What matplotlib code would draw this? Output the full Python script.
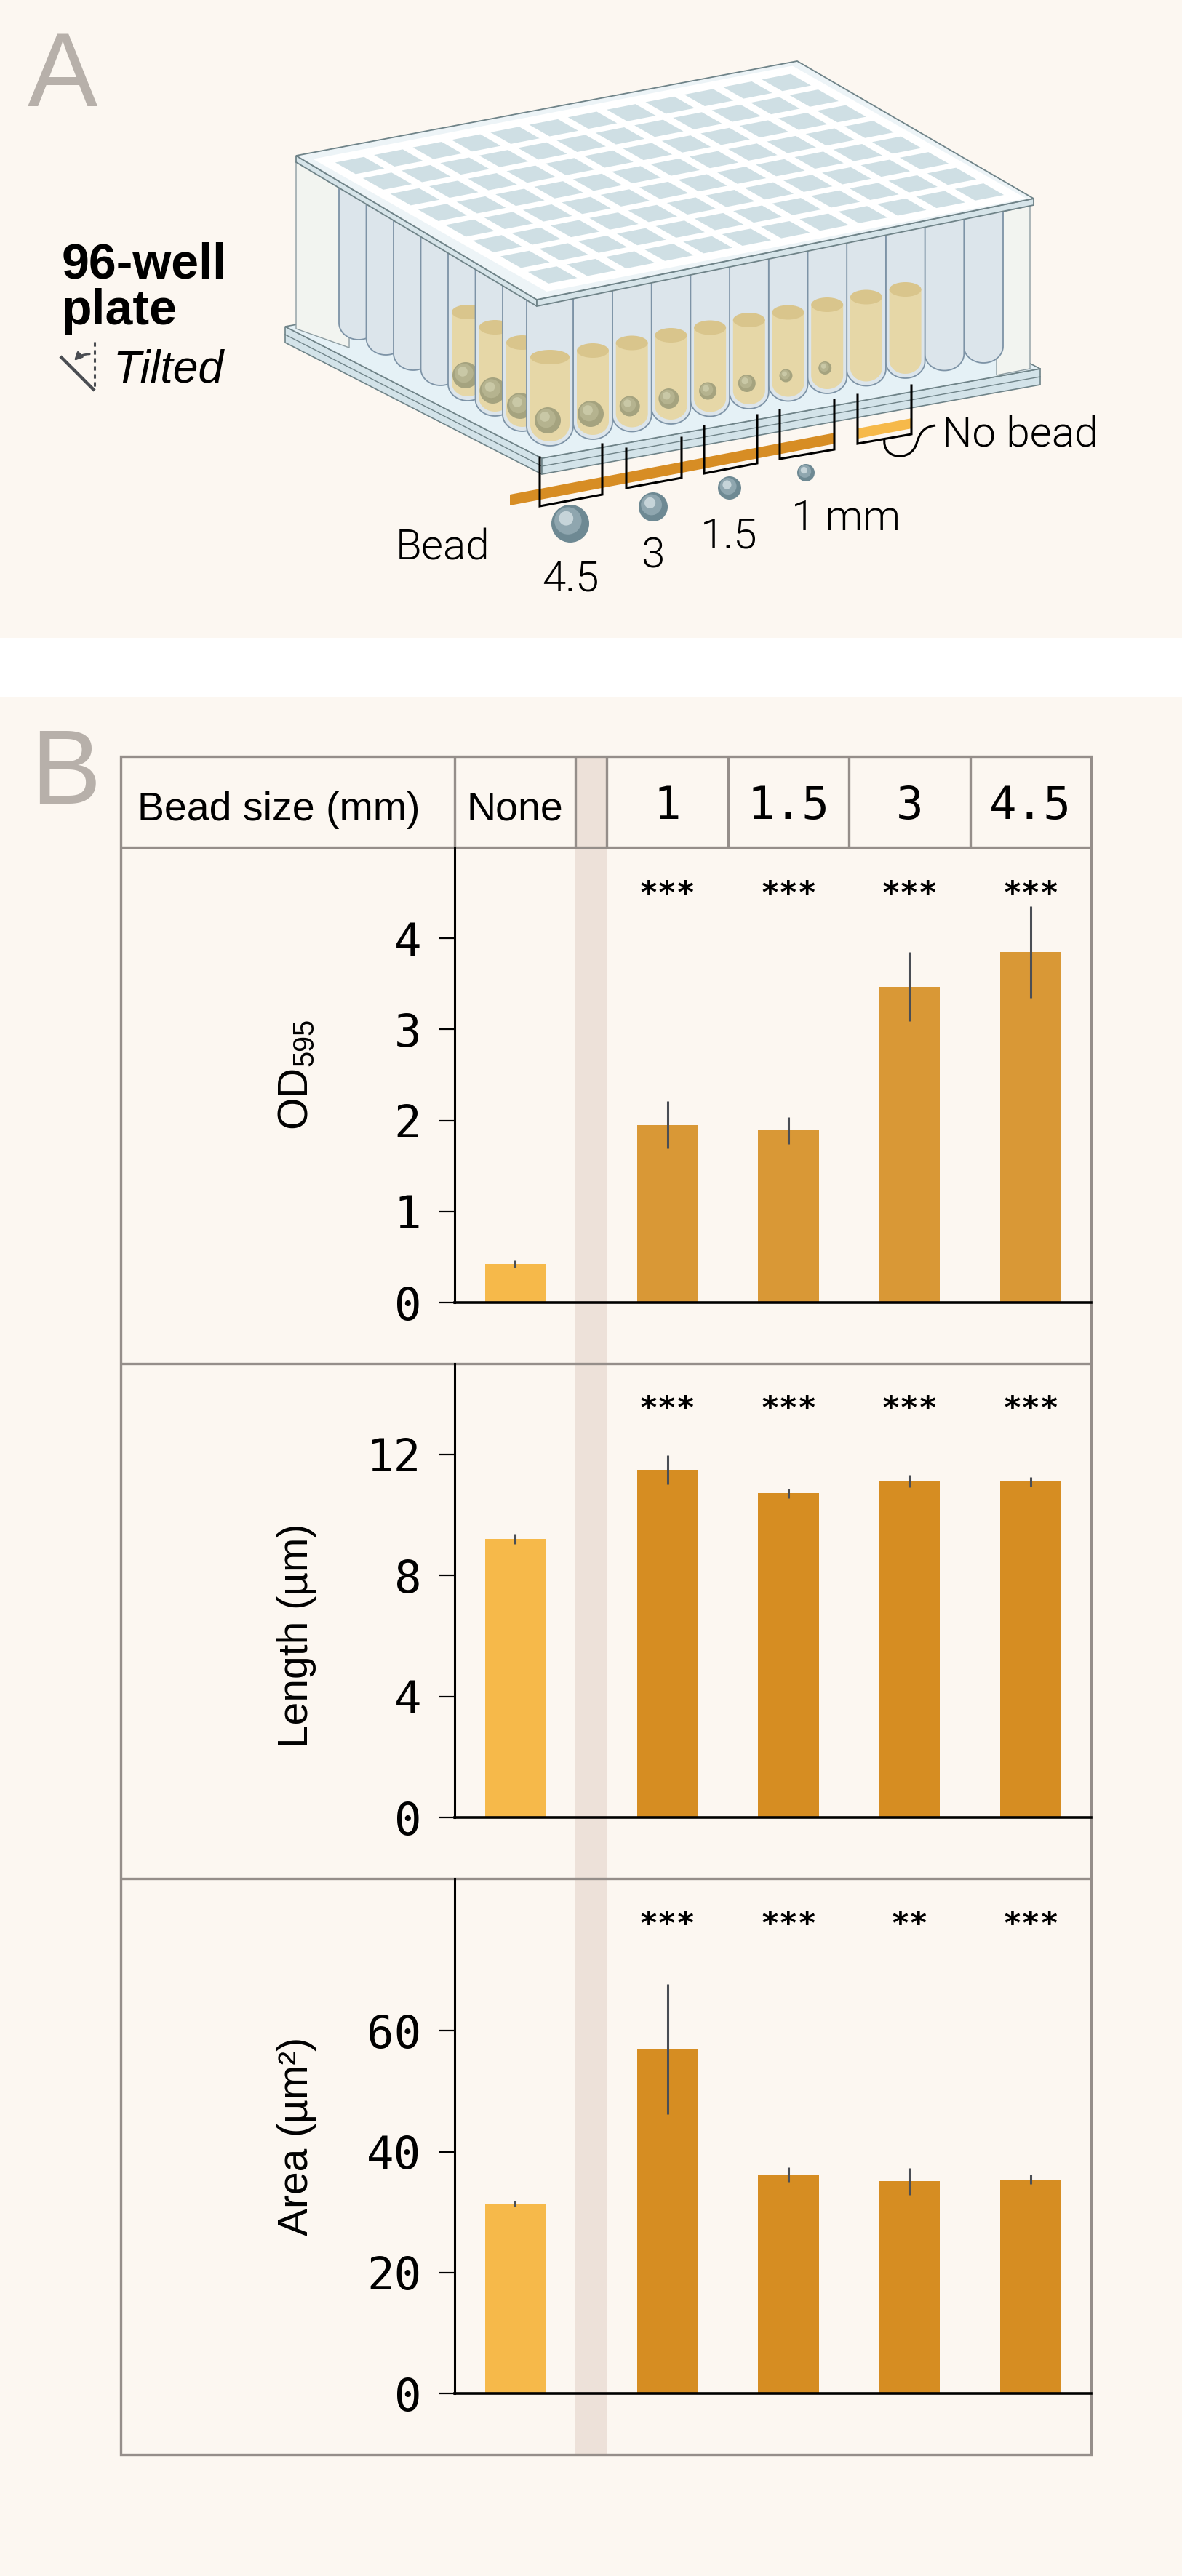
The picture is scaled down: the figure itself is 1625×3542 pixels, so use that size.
import numpy as np
import matplotlib
matplotlib.use('Agg')
import matplotlib.pyplot as plt
from matplotlib import font_manager as fm
from matplotlib.patches import Polygon, Circle, Rectangle, Ellipse, PathPatch, FancyArrowPatch
from matplotlib.path import Path

# ---------------- data ----------------
groups = ['None', '1', '1.5', '3', '4.5']
header_title = 'Bead size (mm)'
od595 = [0.42, 1.95, 1.89, 3.47, 3.85]
od595_err = [0.04, 0.26, 0.15, 0.38, 0.50]
length_um = [9.21, 11.49, 10.71, 11.12, 11.10]
length_err = [0.16, 0.48, 0.15, 0.21, 0.16]
area_um2 = [31.4, 57.0, 36.2, 35.1, 35.4]
area_err = [0.45, 10.8, 1.2, 2.2, 0.8]
stars_od = ['', '***', '***', '***', '***']
stars_len = ['', '***', '***', '***', '***']
stars_area = ['', '***', '***', '**', '***']
yticks_od = [0, 1, 2, 3, 4]
yticks_len = [0, 4, 8, 12]
yticks_area = [0, 20, 40, 60]
ylabel_od = 'OD$_{595}$'
ylabel_len = 'Length (µm)'
ylabel_area = 'Area (µm²)'
panelA_bead_labels = ['4.5', '3', '1.5', '1 mm']

# ---------------- style ----------------
CREAM = '#FCF7F1'
BAND = '#EDE1D9'
GRID = '#958E8A'
NONE_C = '#F6B94A'
OD_C = '#D99836'
DARK_C = '#D68D22'
ERR_C = '#4A4E55'

plt.rcParams['font.family'] = ['Liberation Sans', 'DejaVu Sans']
plt.rcParams['mathtext.default'] = 'regular'


def find_font(names, weights, style='normal'):
    for n in names:
        for f in fm.fontManager.ttflist:
            w = f.weight
            if isinstance(w, str):
                w = fm.weight_dict.get(w, 400)
            if f.name == n and w in weights and f.style == style:
                return f.fname
    return None


light_path = find_font(['Roboto', 'Lato', 'Inter', 'Open Sans', 'Noto Sans'], [300, 200])


def fp_light(size):
    if light_path:
        return fm.FontProperties(fname=light_path, size=size)
    return fm.FontProperties(family='Liberation Sans', size=size)


W, H = 1625, 3542
fig = plt.figure(figsize=(W / 100, H / 100), dpi=100)
fig.patch.set_facecolor(CREAM)
bg = fig.add_axes([0, 0, 1, 1], zorder=0)
bg.set_xlim(0, W)
bg.set_ylim(H, 0)
bg.axis('off')

# white separator between panels
bg.add_patch(Rectangle((0, 877), W, 81, facecolor='white', edgecolor='none'))

# ---------------- panel letters ----------------
bg.text(38, 146, 'A', fontsize=104, color='#B7B0AA', va='baseline', ha='left')
bg.text(42, 1105, 'B', fontsize=104, color='#B7B0AA', va='baseline', ha='left')

# ---------------- panel A: text ----------------
bg.text(85, 382, '96-well', fontsize=49, fontweight='bold', va='baseline')
bg.text(85, 446, 'plate', fontsize=49, fontweight='bold', va='baseline')
bg.text(155, 525, 'Tilted', fontsize=45, style='italic', va='baseline')
bg.plot([83, 130], [490, 537], color='#4A4D52', lw=3.2, solid_capstyle='butt')
bg.plot([130, 130], [470, 535], color='#4A4D52', lw=2.2, ls=(0, (2, 1.6)))
bg.add_patch(FancyArrowPatch((126, 487), (100, 498), arrowstyle='-|>', mutation_scale=16,
                             connectionstyle='arc3,rad=0.25', color='#4A4D52', lw=2))

# ---------------- panel A: plate illustration ----------------
EDGE = '#6F8388'
TUBE_EDGE = '#7D93A6'

# base slab
L2, B2, R2, T2 = np.array([392, 449]), np.array([745, 630]), np.array([1430, 507]), np.array([1077, 326])
th = 22
bg.add_patch(Polygon([L2, B2, B2 + [0, th], L2 + [0, th]], closed=True, fc='#D3E3E9', ec=EDGE, lw=1.2))
bg.add_patch(Polygon([B2, R2, R2 + [0, th], B2 + [0, th]], closed=True, fc='#D3E3E9', ec=EDGE, lw=1.2))
bg.plot([L2[0], B2[0], R2[0]], [L2[1] + 11, B2[1] + 11, R2[1] + 11], color=EDGE, lw=1.0)
bg.add_patch(Polygon([L2, B2, R2, T2], closed=True, fc='#E5F1F6', ec=EDGE, lw=1.2))

# skirt end strips
bg.add_patch(Polygon([(407, 222), (480, 266), (480, 478), (407, 452)], closed=True,
                     fc='#F2F4F0', ec='#8D9CA1', lw=1.0))
bg.add_patch(Polygon([(1370, 293), (1416, 283), (1416, 507), (1370, 516)], closed=True,
                     fc='#F2F4F0', ec='#8D9CA1', lw=1.0))

# lid geometry
L, T, R, B = np.array([407, 214]), np.array([1096, 84]), np.array([1421, 273]), np.array([738, 412])
lt = 9


def lid_front_y(x):
    if x <= B[0]:
        return L[1] + lt + (x - L[0]) * (B[1] - L[1]) / (B[0] - L[0])
    return B[1] + lt + (x - B[0]) * (R[1] - B[1]) / (R[0] - B[0])


def u_shape(xl, xr, top, bottom, ry_frac=0.85, n=40):
    r = (xr - xl) / 2
    ry = r * ry_frac
    xc = (xl + xr) / 2
    yc = bottom - ry
    th_ = np.linspace(np.pi, 0, n)
    xs = xc + r * np.cos(th_)
    ys = yc + ry * np.sin(th_)
    return [(xl, top)] + list(zip(xs, ys)) + [(xr, top)]


def bead(x, y, r, cols):
    bg.add_patch(Circle((x, y), r, fc=cols[0], ec='none'))
    bg.add_patch(Circle((x - 0.12 * r, y - 0.15 * r), 0.72 * r, fc=cols[1], ec='none'))
    bg.add_patch(Circle((x - 0.22 * r, y - 0.28 * r), 0.38 * r, fc=cols[2], ec='none'))


# wells: (left x, width, bottom y, liquid, bead radius)
tubes = []
for i in range(7):
    liq = i >= 4
    tubes.append((466 + 37.5 * i, 54, 467 + 21 * i, liq, 18 if liq else 0))
tubes.append((724, 64, 613, True, 18))
right_beads = [18, 14, 14, 12, 12, 9, 9, 0, 0, 0, 0]
right_liq = [True] * 9 + [False] * 2
for k in range(11):
    tubes.append((788 + 53.7 * k, 54, 604 - 10.5 * k, right_liq[k], right_beads[k]))

for xl, w, bot, liq, br in sorted(tubes, key=lambda t: t[2]):
    xr = xl + w
    top = min(lid_front_y(xl), lid_front_y(xr)) - 25
    bg.add_patch(Polygon(u_shape(xl, xr, top, bot), closed=True, fc='#DCE5EB', ec=TUBE_EDGE, lw=1.3))
    if liq:
        lt_y = bot - 122
        bg.add_patch(Polygon(u_shape(xl + 5, xr - 5, lt_y, bot - 6), closed=True, fc='#E6D7A7', ec='none'))
        bg.add_patch(Ellipse(((xl + xr) / 2, lt_y), w - 10, 20, fc='#D9C58C', ec='none'))
        if br:
            bead((xl + xr) / 2 - 3, bot - 35, br, ['#A5A37F', '#B5B38F', '#C9C8A6'])

# lid
bg.add_patch(Polygon([L, B, B + [0, lt], L + [0, lt]], closed=True, fc='#D6E4E9', ec=EDGE, lw=1.3))
bg.add_patch(Polygon([B, R, R + [0, lt], B + [0, lt]], closed=True, fc='#D6E4E9', ec=EDGE, lw=1.3))
bg.add_patch(Polygon([L, T, R, B], closed=True, fc='#EDF4F7', ec=EDGE, lw=1.3))
I0 = np.array([449, 222])
va_ = np.array([640, -124.5])
vb_ = np.array([303, 172])
bg.add_patch(Polygon([I0 - 0.015 * va_ - 0.03 * vb_, I0 + 1.015 * va_ - 0.03 * vb_,
                      I0 + 1.015 * va_ + 1.03 * vb_, I0 - 0.015 * va_ + 1.03 * vb_],
                     closed=True, fc='white', ec='none'))
m0, m1 = 0.13, 0.87
for i in range(12):
    for j in range(8):
        p = lambda a, b: I0 + va_ * (i + a) / 12 + vb_ * (j + b) / 8
        bg.add_patch(Polygon([p(m0, m0), p(m1, m0), p(m1, m1), p(m0, m1)], closed=True,
                             fc='#CFDFE4', ec='none'))


# bead-size bands under the plate
def band_y(x):
    return 680 - (x - 701) * 0.19


bg.add_patch(Polygon([(701, band_y(701)), (1147, band_y(1147)), (1147, band_y(1147) + 15), (701, band_y(701) + 15)],
                     closed=True, fc='#D78D24', ec='none'))
bg.add_patch(Polygon([(1179, band_y(1179)), (1254, band_y(1254)), (1254, band_y(1254) + 14), (1179, band_y(1179) + 14)],
                     closed=True, fc=NONE_C, ec='none'))

brackets = [((742, 629, 696), (828, 611, 680)),
            ((861, 617, 671), (937, 602, 657)),
            ((968, 586, 651), (1041, 571, 637)),
            ((1072, 564, 631), (1147, 550, 618)),
            ((1179, 543, 610), (1253, 530, 597))]
for (xa, ta, ba), (xb, tb, bb) in brackets:
    bg.plot([xa, xa, xb, xb], [ta, ba, bb, tb], color='black', lw=2.2, solid_joinstyle='miter')

curl = Path([(1216, 603), (1212, 632), (1252, 636), (1260, 610), (1265, 594), (1270, 587), (1286, 585)],
            [Path.MOVETO, Path.CURVE4, Path.CURVE4, Path.CURVE4, Path.CURVE4, Path.CURVE4, Path.CURVE4])
bg.add_patch(PathPatch(curl, fill=False, ec='black', lw=2.2))

bead_pts = [(784, 720, 26), (898, 697, 20), (1003, 671, 16), (1108, 650, 12)]
for x, y, r in bead_pts:
    bead(x, y, r, ['#6E8993', '#8FA6AF', '#C6D4D9'])

bg.text(544, 769, 'Bead', fontproperties=fp_light(42), va='baseline', ha='left')
label_pos = [(784, 812, 'center'), (897, 780, 'center'), (1002, 753, 'center'), (1088, 729, 'left')]
for (x, y, ha), s in zip(label_pos, panelA_bead_labels):
    bg.text(x, y, s, fontproperties=fp_light(42), va='baseline', ha=ha)
bg.text(1295, 614, 'No bead', fontproperties=fp_light(42), va='baseline', ha='left')

# ---------------- panel B: table frame ----------------
TL, TR, TT, TB = 166, 1500, 1040, 3375
AX_L = 625
GAP = 43
col_w = (TR - AX_L - GAP) / 5
band_l = AX_L + col_w
bg.add_patch(Rectangle((band_l, TT), GAP, TB - TT, fc=BAND, ec='none'))

row_tops = [1165, 1875, 2583]
lw_t = 2.4
bg.add_patch(Rectangle((TL, TT), TR - TL, TB - TT, fill=False, ec=GRID, lw=lw_t))
for y in row_tops:
    bg.plot([TL, TR], [y, y], color=GRID, lw=lw_t, solid_capstyle='butt')
col_edges = [AX_L, band_l, band_l + GAP] + [band_l + GAP + col_w * k for k in range(1, 4)]
for x in col_edges:
    bg.plot([x, x], [TT, row_tops[0]], color=GRID, lw=lw_t, solid_capstyle='butt')

# header texts
bg.text(189, 1128, header_title, fontsize=40, va='baseline', ha='left')
col_centers_px = [AX_L + col_w / 2] + [band_l + GAP + col_w * (k + 0.5) for k in range(4)]
bg.text(col_centers_px[0], 1128, groups[0], fontsize=40, va='baseline', ha='center')
for x, s in zip(col_centers_px[1:], groups[1:]):
    bg.text(x, 1126, s, fontsize=45, family='DejaVu Sans Mono', va='baseline', ha='center')

# ---------------- panel B: bar charts ----------------
x_pos = [col_w / 2] + [col_w + GAP + col_w * (k + 0.5) for k in range(4)]
rows = [
    dict(vals=od595, err=od595_err, stars=stars_od, ticks=yticks_od, ymax=5.0, top=1165, bot=1791,
         color=OD_C, label=ylabel_od, label_y=1478, star_y=1219),
    dict(vals=length_um, err=length_err, stars=stars_len, ticks=yticks_len, ymax=15.0, top=1875, bot=2499,
         color=DARK_C, label=ylabel_len, label_y=2249, star_y=1927),
    dict(vals=area_um2, err=area_err, stars=stars_area, ticks=yticks_area, ymax=85.2, top=2583, bot=3291,
         color=DARK_C, label=ylabel_area, label_y=2937, star_y=2636),
]

for row in rows:
    ax = fig.add_axes([AX_L / W, 1 - row['bot'] / H, (TR - AX_L) / W, (row['bot'] - row['top']) / H], zorder=2)
    ax.set_facecolor('none')
    cols = [NONE_C] + [row['color']] * 4
    ax.bar(x_pos, row['vals'], width=col_w * 0.5, color=cols, zorder=2)
    ax.errorbar(x_pos, row['vals'], yerr=row['err'], fmt='none', ecolor=ERR_C, elinewidth=2.2, capsize=0, zorder=3)
    ax.set_xlim(0, TR - AX_L)
    ax.set_ylim(0, row['ymax'])
    ax.set_xticks([])
    ax.set_yticks(row['ticks'])
    ax.set_yticklabels([str(t) for t in row['ticks']], fontfamily='DejaVu Sans Mono', fontsize=45)
    ax.tick_params(axis='y', length=16, width=1.6, pad=17, color='black')
    for s in ['top', 'right']:
        ax.spines[s].set_visible(False)
    ax.spines['left'].set_linewidth(2.2)
    ax.spines['bottom'].set_linewidth(2.6)
    ax.spines['bottom'].set_zorder(4)
    for x, s in zip(col_centers_px, row['stars']):
        if s:
            bg.text(x, row['star_y'] + 23, s, fontsize=31, fontweight='bold', family='DejaVu Sans Mono',
                    va='baseline', ha='center')
    bg.text(423, row['label_y'], row['label'], fontsize=41, rotation=90, rotation_mode='anchor',
            ha='center', va='baseline')

fig.savefig('out.png', dpi=100, facecolor=CREAM)
